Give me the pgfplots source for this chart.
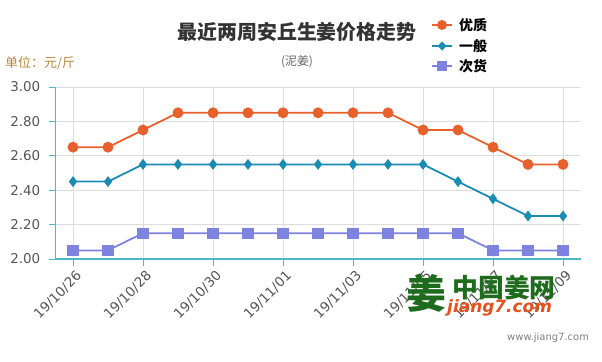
\documentclass[border=0pt]{standalone}
\usepackage{fontspec}
\usepackage{pgfplots}
\pgfplotsset{compat=1.18}
\setmainfont{DejaVu Sans}
\newfontfamily\cjk{Noto Sans CJK SC}
\definecolor{cA}{HTML}{E8612C}
\definecolor{cB}{HTML}{1A8BB3}
\definecolor{cC}{HTML}{7E83E0}
\definecolor{axc}{HTML}{4CB8C8}
\definecolor{gridc}{HTML}{DDDDDD}
\definecolor{lblc}{HTML}{555555}
\definecolor{unitc}{HTML}{B8863B}
\definecolor{wmg}{HTML}{1E6B1E}
\definecolor{wmo}{HTML}{E8501C}
\pgfplotstableread{
x a b c
0 2.65 2.45 2.05
1 2.65 2.45 2.05
2 2.75 2.55 2.15
3 2.85 2.55 2.15
4 2.85 2.55 2.15
5 2.85 2.55 2.15
6 2.85 2.55 2.15
7 2.85 2.55 2.15
8 2.85 2.55 2.15
9 2.85 2.55 2.15
10 2.75 2.55 2.15
11 2.75 2.45 2.15
12 2.65 2.35 2.05
13 2.55 2.25 2.05
14 2.55 2.25 2.05
}\datatab
\begin{document}
\begin{tikzpicture}
\begin{scope}[x=1bp,y=1bp]
\useasboundingbox (0,0) rectangle (602,361);
\end{scope}
\begin{axis}[
  at={(55.5bp,102bp)}, anchor=south west,
  scale only axis, width=525bp, height=172bp,
  xmin=-0.5, xmax=14.5, ymin=2, ymax=3,
  axis lines*=left,
  axis line style={color=axc, line width=1.3pt},
  xtick={0,2,...,14},
  xticklabels={19/10/26,19/10/28,19/10/30,19/11/01,19/11/03,19/11/05,19/11/07,19/11/09},
  ytick={2,2.2,...,3.01},
  /pgf/number format/fixed,
  /pgf/number format/fixed zerofill,
  /pgf/number format/precision=2,
  /pgf/number format/assume math mode=true,
  ticklabel style={font=\fontsize{13.5}{13.5}\selectfont, text=lblc},
  xticklabel style={rotate=45, anchor=north east, inner sep=1pt, yshift=-3pt},
  yticklabel style={inner sep=2pt, xshift=-6bp},
  tick align=outside,
  major tick length=7bp,
  tick style={color=axc, line width=1pt},
  xmajorgrids, ymajorgrids,
  grid style={color=gridc, line width=0.8pt},
  clip=false,
]
\addplot[color=cC, line width=1.8pt, mark=square*, mark size=4.8bp, mark options={fill=cC, draw=cC}] table[x=x,y=c] {\datatab};
\addplot[color=cB, line width=1.8pt, mark=diamond*, mark size=4bp, mark options={fill=cB, draw=cB}] table[x=x,y=b] {\datatab};
\addplot[color=cA, line width=1.8pt, mark=*, mark size=4.5bp, mark options={fill=cA, draw=cA}] table[x=x,y=a] {\datatab};
\end{axis}
\begin{scope}[x=1bp,y=1bp]
% watermark
\node[anchor=west,font=\cjk\fontsize{26}{26}\selectfont\bfseries,text=wmg,inner sep=0] at (452,73) {中国姜网};
\node[anchor=west,font=\fontsize{17}{17}\selectfont\bfseries\itshape,text=wmo,inner sep=0] at (447,53) {jiang7.com};
\node[anchor=center,font=\cjk\fontsize{40}{40}\selectfont\bfseries,text=wmg,inner sep=0] at (426,68) {姜};
\node[anchor=west,font=\fontsize{10}{10}\selectfont,text=gray,inner sep=0] at (507,23) {www.jiang7.com};
% title etc
\node[font=\cjk\fontsize{20}{20}\selectfont\bfseries,text=black!80] at (297,329) {最近两周安丘生姜价格走势};
\node[font=\cjk\fontsize{12}{12}\selectfont,text=black!60] at (297,299) {(泥姜)};
\node[anchor=west,font=\cjk\fontsize{13}{13}\selectfont,text=unitc,inner sep=0] at (5,298) {单位：元/斤};
% legend
\draw[cA, line width=2pt] (432,336) -- (452,336);
\fill[cA] (442,336) circle (5);
\node[anchor=west,font=\cjk\fontsize{14}{14}\selectfont\bfseries,inner sep=0] at (459,336) {优质};
\draw[cB, line width=2pt] (432,315) -- (452,315);
\fill[cB] (442,319.5) -- (446.5,315) -- (442,310.5) -- (437.5,315) -- cycle;
\node[anchor=west,font=\cjk\fontsize{14}{14}\selectfont\bfseries,inner sep=0] at (459,315) {一般};
\draw[cC, line width=2pt] (432,295) -- (452,295);
\fill[cC] (437,290) rectangle (447,300);
\node[anchor=west,font=\cjk\fontsize{14}{14}\selectfont\bfseries,inner sep=0] at (459,295) {次货};
\end{scope}
\end{tikzpicture}
\end{document}
